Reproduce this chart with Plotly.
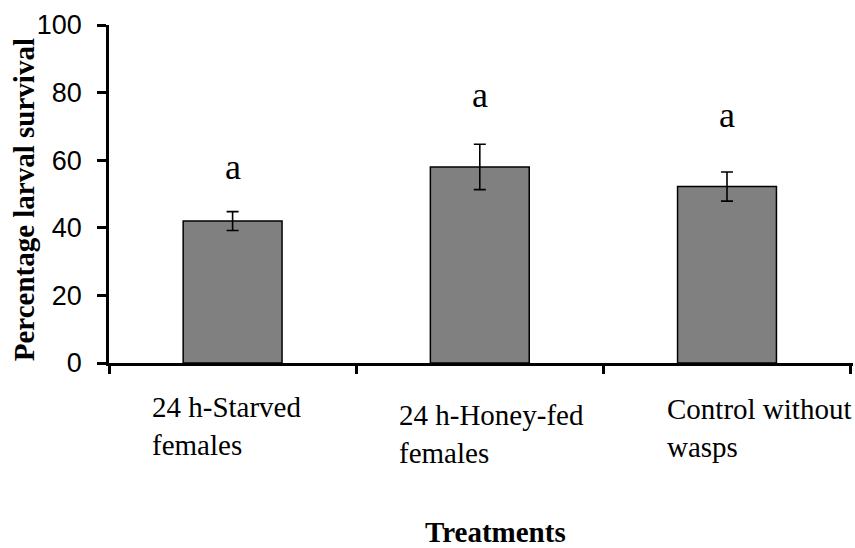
import plotly.graph_objects as go

# Larval survival by wasp treatment (mean ± SE)
categories = ["24 h-Starved<br>females", "24 h-Honey-fed<br>females", "Control without<br>wasps"]
survival = [42.0, 58.0, 52.2]
sem = [2.8, 6.7, 4.3]
letters = ["a", "a", "a"]
letter_pos = [58.0, 79.3, 73.4]
y_ticks = [0, 20, 40, 60, 80, 100]

serif = "Liberation Serif, Times New Roman, serif"
sans = "Liberation Sans, Arial, sans-serif"

fig = go.Figure()
fig.add_trace(go.Bar(
    x=categories,
    y=survival,
    marker=dict(color="#808080", line=dict(color="black", width=1.5)),
    error_y=dict(type="data", array=sem, visible=True,
                 color="black", thickness=1.6, width=6),
    width=0.4,
    showlegend=False,
))

# significance letters above bars
for cat, lab, pos in zip(categories, letters, letter_pos):
    fig.add_annotation(x=cat, y=pos, xref="x", yref="y", text=lab,
                       showarrow=False, yanchor="middle",
                       font=dict(family=serif, size=36, color="black"))

# category labels, left aligned under each bar
label_shift = [(-83, -26), (-83, -34), (-62, -28)]
for cat, (dx, dy) in zip(categories, label_shift):
    fig.add_annotation(x=cat, y=0, xref="x", yref="y", text=cat,
                       showarrow=False, xanchor="left", yanchor="top",
                       align="left", xshift=dx, yshift=dy,
                       font=dict(family=serif, size=29, color="black"))

# axis titles
fig.add_annotation(x=0.52, y=-0.5, xref="paper", yref="paper",
                   text="<b>Treatments</b>", showarrow=False,
                   xanchor="center", yanchor="middle",
                   font=dict(family=serif, size=29, color="black"))
fig.add_annotation(x=-0.114, y=0.482, xref="paper", yref="paper",
                   text="<b>Percentage larval survival</b>", showarrow=False,
                   textangle=-90, xanchor="center", yanchor="middle",
                   font=dict(family=serif, size=29, color="black"))

fig.update_layout(
    width=855, height=548,
    margin=dict(l=109, r=2, t=25, b=185),
    paper_bgcolor="white", plot_bgcolor="white",
    bargap=0.6,
    xaxis=dict(type="category", showticklabels=False, tickson="boundaries",
               ticks="outside", ticklen=8, tickwidth=2.5, tickcolor="black",
               showline=True, linecolor="black", linewidth=2.5,
               showgrid=False, zeroline=False),
    yaxis=dict(range=[0, 100], tickvals=y_ticks, ticks="outside", ticklen=9,
               tickwidth=2.5, tickcolor="black", showline=True,
               linecolor="black", linewidth=2.5, showgrid=False,
               zeroline=False, ticklabelstandoff=10,
               tickfont=dict(family=sans, size=27, color="black")),
)

fig.write_html("out.html")
